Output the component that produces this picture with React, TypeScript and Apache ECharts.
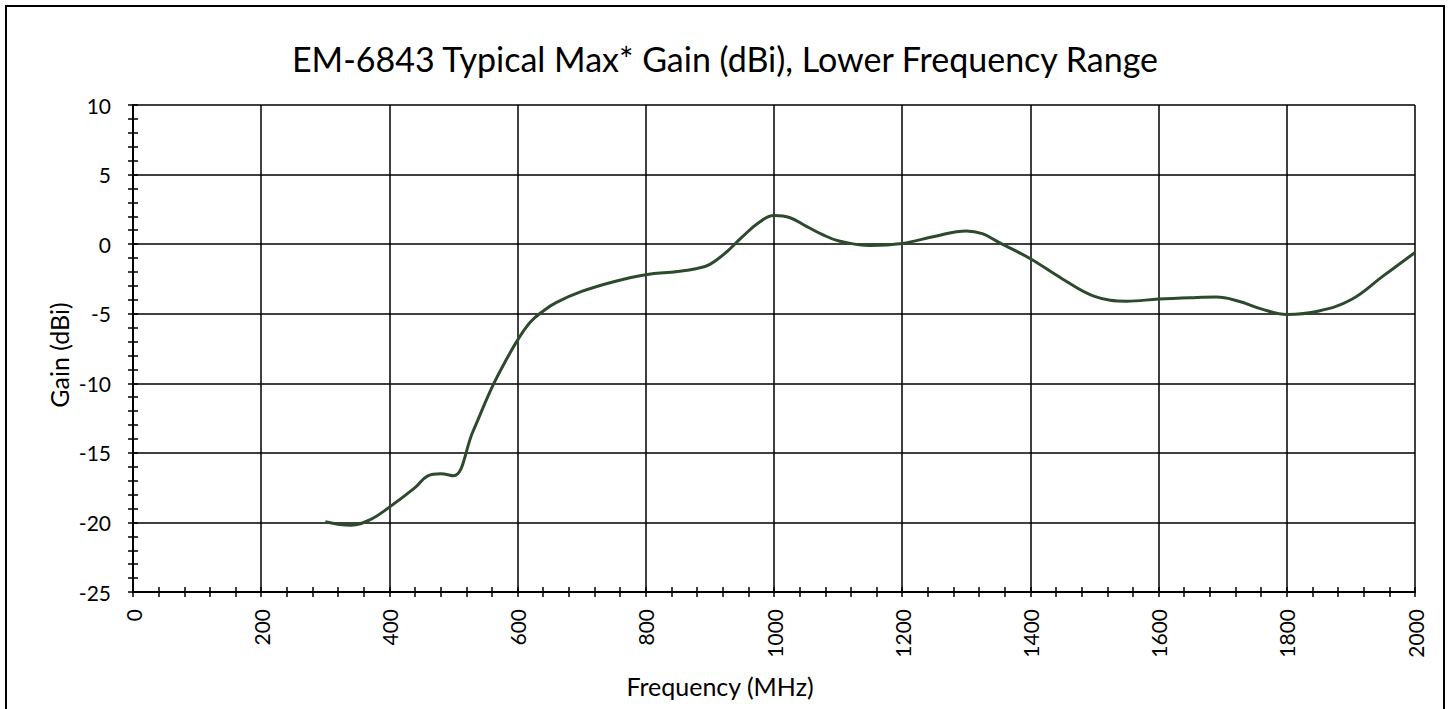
import React, { useEffect, useRef } from "react";
import * as echarts from "echarts";

const freqMHz = [300, 340, 370, 400, 440, 460, 480, 500, 530, 560, 580, 600, 620, 640, 660, 700, 750, 800, 850, 880, 900, 925, 950, 975, 1000, 1025, 1050, 1075, 1100, 1150, 1200, 1250, 1300, 1325, 1350, 1400, 1450, 1500, 1550, 1600, 1650, 1690, 1725, 1760, 1800, 1850, 1900, 1950, 2000];
const gainDbi = [-19.95, -20.2, -19.8, -18.9, -17.5, -16.65, -16.5, -16.65, -13.5, -10.3, -8.5, -6.9, -5.6, -4.8, -4.2, -3.4, -2.7, -2.2, -1.97, -1.75, -1.45, -0.6, 0.5, 1.5, 2.05, 1.9, 1.3, 0.7, 0.25, -0.1, 0.05, 0.55, 0.95, 0.75, 0.15, -1.05, -2.5, -3.75, -4.1, -3.95, -3.85, -3.8, -4.1, -4.65, -5.05, -4.8, -4.0, -2.3, -0.6];

const xTicks = { min: 0, max: 2000, interval: 200 };
const yTicks = { min: -25, max: 10, interval: 5 };

const titleText = "EM-6843 Typical Max* Gain (dBi), Lower Frequency Range";
const xName = "Frequency (MHz)";
const yName = "Gain (dBi)";

const FONT = "Lato";

export default function App() {
  const ref = useRef<HTMLDivElement>(null);
  useEffect(() => {
    document.body.style.margin = "0";
    const chart = echarts.init(ref.current!, null, { renderer: "svg" });
    const data = freqMHz.map((f, i) => [f, gainDbi[i]]);
    const tickStyle = { color: "#000", width: 1.5 };
    chart.setOption({
      animation: false,
      backgroundColor: "#ffffff",
      grid: { left: 133, right: 34, top: 105, bottom: 117, containLabel: false },
      xAxis: [
        {
          type: "value",
          min: xTicks.min,
          max: xTicks.max,
          interval: xTicks.interval,
          position: "bottom",
          axisLine: { show: true, onZero: false, lineStyle: { color: "#000", width: 2 } },
          axisTick: { show: true, inside: false, length: 5, lineStyle: tickStyle },
          minorTick: { show: true, splitNumber: 5, length: 5, lineStyle: tickStyle },
          splitLine: { show: true, lineStyle: { color: "#000", width: 1.5 } },
          axisLabel: {
            show: true,
            rotate: 90,
            margin: 17,
            color: "#000",
            fontFamily: FONT,
            fontSize: 21,
            formatter: (v: number) => String(v),
          },
        },
        {
          type: "value",
          min: xTicks.min,
          max: xTicks.max,
          interval: xTicks.interval,
          position: "bottom",
          axisLine: { show: false, onZero: false },
          axisTick: { show: true, inside: true, length: 5, lineStyle: tickStyle },
          minorTick: { show: true, splitNumber: 5, length: 5, lineStyle: tickStyle },
          splitLine: { show: false },
          axisLabel: { show: false },
        },
      ],
      yAxis: [
        {
          type: "value",
          min: yTicks.min,
          max: yTicks.max,
          interval: yTicks.interval,
          position: "left",
          axisLine: { show: true, onZero: false, lineStyle: { color: "#000", width: 2 } },
          axisTick: { show: true, inside: false, length: 5, lineStyle: tickStyle },
          minorTick: { show: true, splitNumber: 5, length: 5, lineStyle: tickStyle },
          splitLine: { show: true, lineStyle: { color: "#000", width: 1.5 } },
          axisLabel: {
            show: true,
            margin: 22,
            color: "#000",
            fontFamily: FONT,
            fontSize: 21,
            formatter: (v: number) => String(v),
          },
        },
        {
          type: "value",
          min: yTicks.min,
          max: yTicks.max,
          interval: yTicks.interval,
          position: "left",
          axisLine: { show: false, onZero: false },
          axisTick: { show: true, inside: true, length: 5, lineStyle: tickStyle },
          minorTick: { show: true, splitNumber: 5, length: 5, lineStyle: tickStyle },
          splitLine: { show: false },
          axisLabel: { show: false },
        },
      ],
      series: [
        {
          type: "line",
          xAxisIndex: 0,
          yAxisIndex: 0,
          data,
          smooth: 0.4,
          showSymbol: false,
          symbol: "none",
          lineStyle: { color: "#2d4a2d", width: 3 },
        },
      ],
      graphic: [
        {
          type: "rect",
          shape: { x: 6, y: 6, width: 1438, height: 712 },
          style: { fill: "none", stroke: "#000", lineWidth: 2 },
          silent: true,
        },
        {
          type: "text",
          x: 725,
          y: 58,
          style: {
            text: titleText,
            fontFamily: FONT,
            fontSize: 34,
            fill: "#000",
            align: "center",
            verticalAlign: "middle",
          },
        },
        {
          type: "text",
          x: 720,
          y: 686,
          style: {
            text: xName,
            fontFamily: FONT,
            fontSize: 25,
            fill: "#000",
            align: "center",
            verticalAlign: "middle",
          },
        },
        {
          type: "text",
          x: 59,
          y: 355,
          rotation: Math.PI / 2,
          style: {
            text: yName,
            fontFamily: FONT,
            fontSize: 25,
            fill: "#000",
            align: "center",
            verticalAlign: "middle",
          },
        },
      ],
    });
    return () => chart.dispose();
  }, []);
  return <div ref={ref} style={{ width: 1449, height: 709 }} />;
}
